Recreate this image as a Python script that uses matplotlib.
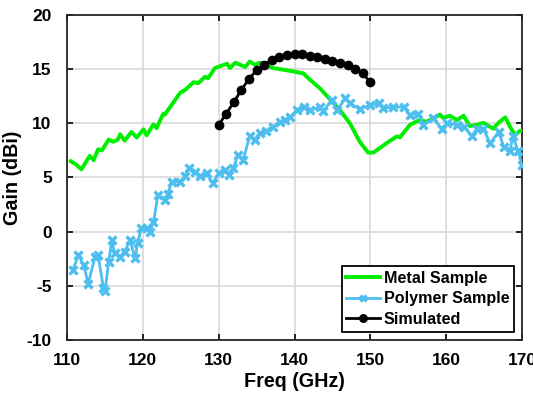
import matplotlib
matplotlib.use("Agg")
import matplotlib.pyplot as plt

# Metal sample (green)
metal_f = [110.5, 111.2, 111.9, 113.0, 113.5, 114.1, 114.6, 115.5, 116.1, 116.7, 117.0, 117.6,
           118.5, 119.2, 120.1, 120.5, 121.4, 121.8, 122.7, 122.9, 123.8, 124.9, 125.6, 126.7,
           127.3, 128.2, 128.6, 129.5, 131.1, 131.5, 132.2, 133.5, 134.1, 134.8, 135.4, 137.2,
           139.8, 141.2, 141.6, 143.4, 144.7, 146.0, 147.3, 148.6, 149.7, 150.4, 152.2, 153.5,
           153.9, 155.2, 156.5, 157.4, 159.2, 159.6, 160.5, 161.4, 162.3, 163.1, 164.0, 164.9,
           166.2, 166.9, 167.8, 168.4, 169.1, 169.7, 170.0]
metal_g = [6.5, 6.2, 5.75, 7.0, 6.6, 7.6, 7.5, 8.5, 8.3, 8.5, 9.0, 8.4,
           9.2, 8.7, 9.45, 8.9, 9.9, 9.55, 10.9, 10.8, 11.7, 12.8, 13.1, 13.8,
           13.7, 14.3, 14.15, 15.1, 15.5, 15.1, 15.6, 15.2, 15.7, 15.4, 15.6, 15.1,
           14.8, 14.6, 14.3, 13.2, 12.2, 11.2, 10.0, 8.3, 7.3, 7.3, 8.2, 8.8,
           8.7, 9.85, 10.3, 10.15, 10.8, 10.5, 10.7, 10.3, 10.7, 9.75, 9.85, 10.05,
           9.5, 10.05, 10.55, 9.7, 8.9, 9.3, 9.3]

# Polymer sample (light blue)
poly_f = [110.8, 111.5, 112.2, 112.8, 113.7, 114.1, 114.8, 115.0, 115.5, 115.9, 116.3, 117.0,
          117.6, 118.3, 119.0, 119.3, 119.8, 120.5, 120.9, 121.4, 122.0, 122.9, 123.3, 123.8,
          124.9, 125.6, 126.1, 126.9, 127.5, 128.4, 129.2, 130.0, 130.8, 131.3, 131.9, 132.6,
          133.2, 134.1, 134.8, 135.4, 136.3, 137.2, 138.1, 138.7, 139.4, 140.3, 141.2, 142.0,
          143.4, 143.8, 144.9, 145.6, 146.7, 147.3, 148.6, 150.0, 151.1, 151.7, 153.0, 154.4,
          155.2, 156.3, 157.0, 158.3, 159.4, 160.1, 161.4, 162.3, 163.4, 164.1, 164.9, 165.8,
          166.9, 167.6, 168.4, 168.8, 169.5, 170.0]
poly_g = [-3.5, -2.15, -3.1, -4.8, -2.3, -2.15, -5.2, -5.5, -2.8, -0.8, -2.0, -2.3,
          -1.85, -0.8, -2.45, -1.05, 0.3, 0.3, 0.0, 0.9, 3.4, 2.9, 3.5, 4.6,
          4.6, 5.1, 5.85, 5.55, 5.1, 5.4, 4.45, 5.4, 5.7, 5.25, 5.85, 7.1,
          6.6, 8.8, 8.5, 9.1, 9.25, 9.7, 10.15, 10.3, 10.6, 11.2, 11.5, 11.2,
          11.5, 11.1, 12.15, 11.2, 12.3, 11.85, 11.3, 11.7, 11.85, 11.4, 11.5, 11.5,
          10.8, 10.9, 9.85, 10.45, 9.5, 10.0, 9.85, 9.7, 8.8, 9.5, 9.5, 8.15,
          9.2, 7.85, 7.4, 8.8, 7.4, 6.15]

# Simulated (black)
sim_f = [130, 131, 132, 133, 134, 135, 136, 137, 138, 139, 140,
         141, 142, 143, 144, 145, 146, 147, 148, 149, 150]
sim_g = [9.85, 10.9, 11.95, 13.1, 14.1, 14.9, 15.4, 15.85, 16.15, 16.3, 16.4,
         16.4, 16.25, 16.1, 15.9, 15.75, 15.6, 15.4, 15.0, 14.6, 13.8]

x_ticks = [110, 120, 130, 140, 150, 160, 170]
y_ticks = [-10, -5, 0, 5, 10, 15, 20]

plt.rcParams['font.family'] = ['Liberation Sans', 'DejaVu Sans']
plt.rcParams['font.weight'] = 'bold'
plt.rcParams['axes.unicode_minus'] = False

fig = plt.figure(figsize=(5.33, 3.94), dpi=100)
ax = fig.add_axes([0.1257, 0.137, 0.8537, 0.825])

ax.plot(metal_f, metal_g, color='#00ee00', lw=2.8, label='Metal Sample', zorder=3)
ax.plot(poly_f, poly_g, color='#4dbeee', lw=2.0, marker='x', ms=5.5, mew=2.4,
        label='Polymer Sample', zorder=3)
ax.plot(sim_f, sim_g, color='black', lw=2.0, marker='o', ms=6,
        label='Simulated', zorder=4)

ax.set_xlim(110, 170)
ax.set_ylim(-10, 20)
ax.set_xticks(x_ticks)
ax.set_yticks(y_ticks)
ax.tick_params(direction='in', top=True, right=True, labelsize=12.5, length=4, width=1.2)
ax.tick_params(axis='x', pad=9)
ax.tick_params(axis='y', pad=11)
for lab in ax.get_xticklabels() + ax.get_yticklabels():
    lab.set_fontweight('bold')
ax.grid(True, color='#d9d9d9', lw=1.2)
ax.set_axisbelow(True)
for s in ax.spines.values():
    s.set_linewidth(1.3)
    s.set_color('#262626')

ax.set_xlabel('Freq (GHz)', fontsize=14.2, fontweight='bold', labelpad=3)
ax.set_ylabel('Gain (dBi)', fontsize=14.2, fontweight='bold', labelpad=3)

leg = ax.legend(loc='lower right', prop={'weight': 'bold', 'size': 11.6},
                frameon=True, fancybox=False, edgecolor='black', framealpha=1,
                borderpad=0.3, labelspacing=0.35, handlelength=2.1, handletextpad=0.2,
                borderaxespad=0.5, markerscale=0.9)
leg.get_frame().set_linewidth(1.3)

fig.savefig('out.png', dpi=100)
